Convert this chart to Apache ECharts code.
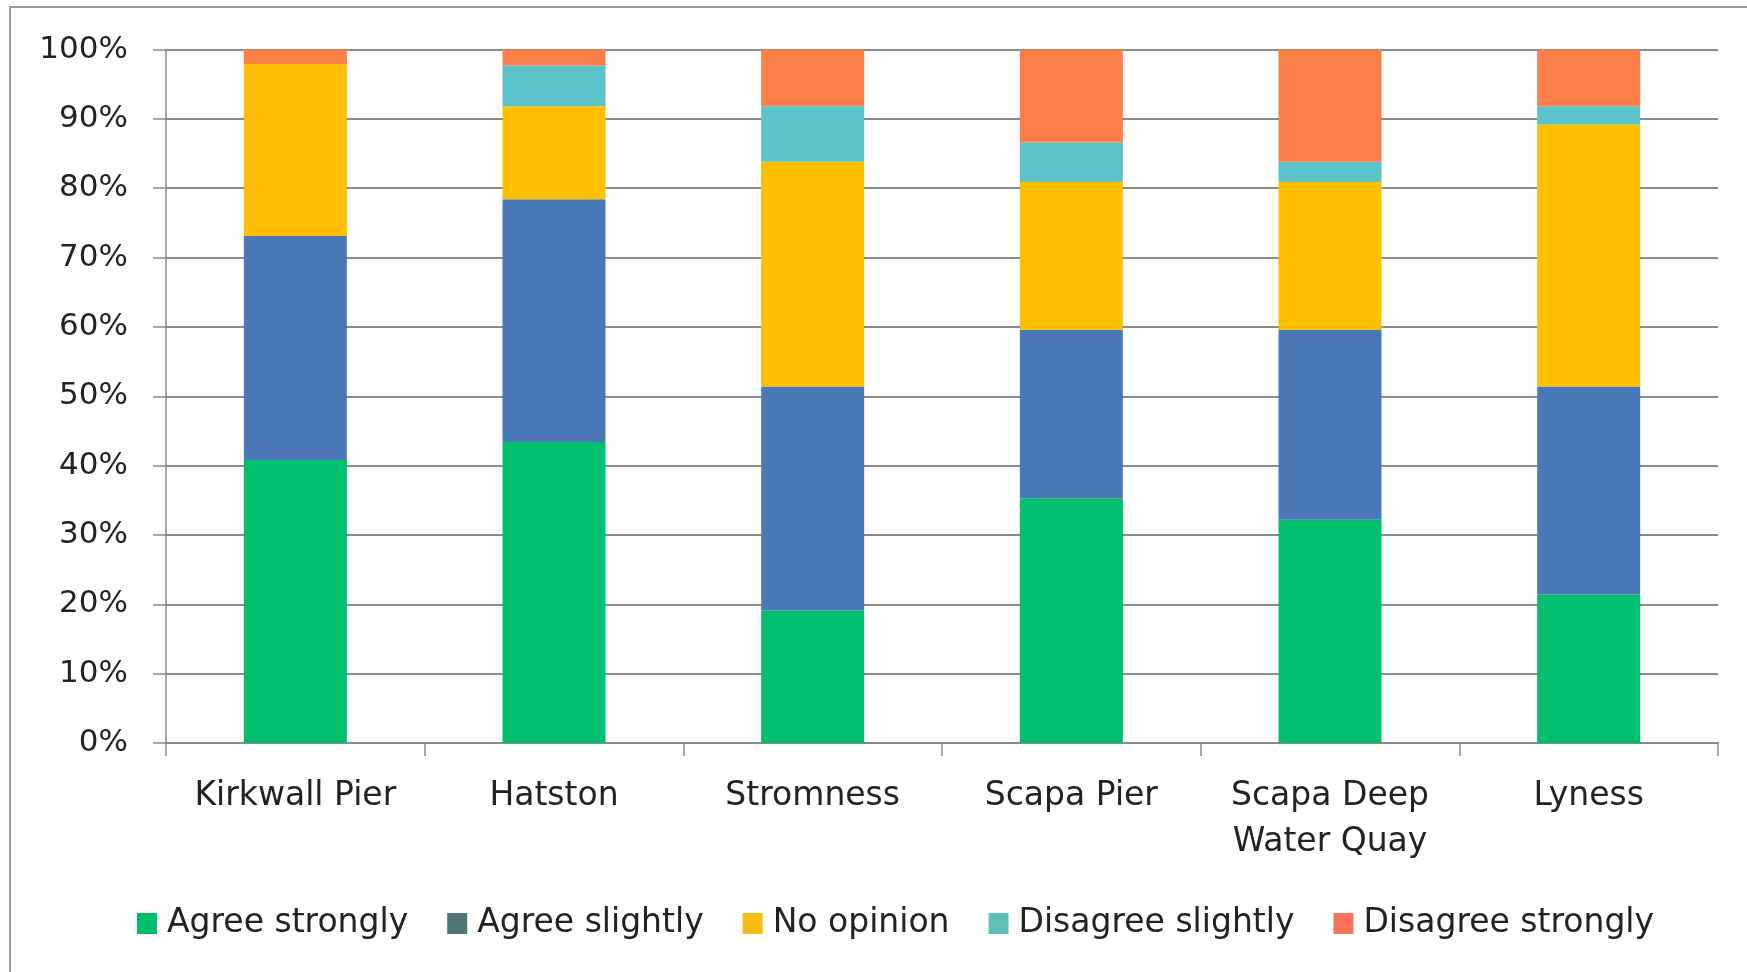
<!DOCTYPE html>
<html>
<head>
<meta charset="utf-8">
<style>
  html, body { margin: 0; padding: 0; background: #ffffff; }
  #chart { width: 1747px; height: 972px; }
</style>
<script src="https://cdn.jsdelivr.net/npm/echarts@6/dist/echarts.min.js"></script>
</head>
<body>
<div id="chart"></div>
<script>
// Survey responses per harbour, as percentage of respondents
const categories = ['Kirkwall Pier', 'Hatston', 'Stromness', 'Scapa Pier', 'Scapa Deep\nWater Quay', 'Lyness'];
const seriesNames = ['Agree strongly', 'Agree slightly', 'No opinion', 'Disagree slightly', 'Disagree strongly'];
const agreeStrongly    = [40.8, 43.4, 19.1, 35.3, 32.2, 21.4];
const agreeSlightly    = [32.3, 35.0, 32.3, 24.3, 27.4, 30.0];
const noOpinion        = [24.8, 13.4, 32.4, 21.3, 21.3, 37.8];
const disagreeSlightly = [0.0, 5.9, 8.0, 5.7, 2.9, 2.6];
const disagreeStrongly = [2.1, 2.3, 8.2, 13.4, 16.2, 8.2];

const barColors = ['#00C06E', '#4A78B8', '#FEC000', '#5CC3CB', '#FC7E48'];
const swatchColors = ['#00BD6C', '#4F7676', '#F5BE10', '#5EC0B6', '#F8735A'];
const values = [agreeStrongly, agreeSlightly, noOpinion, disagreeSlightly, disagreeStrongly];

const FONT = 'DejaVu Sans';
const chart = echarts.init(document.getElementById('chart'), null, { renderer: 'canvas' });

chart.setOption({
  backgroundColor: '#ffffff',
  animation: false,
  graphic: [{
    type: 'polyline',
    shape: { points: [[10, 980], [10, 7], [1760, 7]] },
    style: { stroke: '#9a9a9a', lineWidth: 2, fill: null }
  }],
  grid: { left: 166, right: 29, top: 49.5, bottom: 229, containLabel: false },
  legend: {
    left: 132,
    top: 902,
    itemWidth: 20,
    itemHeight: 21,
    itemGap: 39,
    icon: 'rect',
    textStyle: { fontFamily: FONT, fontSize: 33, color: '#222222', padding: [0, 0, 0, 5] },
    data: seriesNames.map((n, i) => ({ name: n, itemStyle: { color: swatchColors[i] } }))
  },
  xAxis: {
    type: 'category',
    data: categories,
    axisLine: { show: true, lineStyle: { color: '#8a8a8a', width: 2 } },
    axisTick: { show: true, interval: 0, length: 13, alignWithLabel: false, lineStyle: { color: '#8a8a8a', width: 1.5 } },
    axisLabel: { interval: 0, margin: 30, fontFamily: FONT, fontSize: 33, color: '#222222', lineHeight: 46 }
  },
  yAxis: {
    type: 'value',
    min: 0, max: 100, interval: 10,
    axisLine: { show: true, lineStyle: { color: '#8a8a8a', width: 1.5 } },
    axisTick: { show: true, length: 13, lineStyle: { color: '#8a8a8a', width: 1.5 } },
    splitLine: { show: true, lineStyle: { color: '#8a8a8a', width: 2 } },
    axisLabel: { margin: 38, fontFamily: FONT, fontSize: 31, color: '#222222', formatter: '{value}%' }
  },
  series: seriesNames.map((n, i) => ({
    name: n,
    type: 'bar',
    stack: 'total',
    barWidth: 103,
    itemStyle: { color: barColors[i] },
    data: values[i]
  }))
});
</script>
</body>
</html>
